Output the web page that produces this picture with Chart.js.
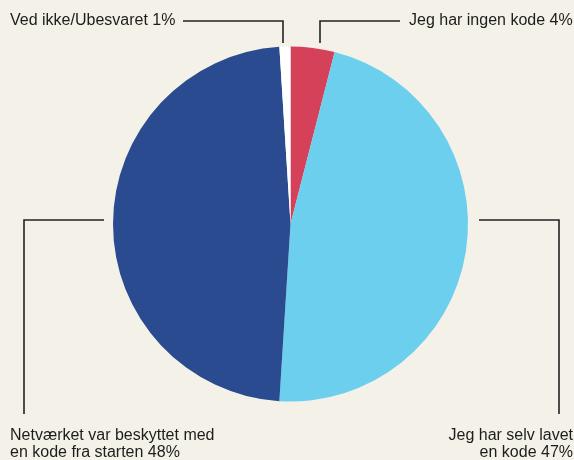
<!DOCTYPE html>
<html>
<head>
<meta charset="utf-8">
<script src="https://cdn.jsdelivr.net/npm/chart.js@4"></script>
<style>
  html, body { margin: 0; padding: 0; background: #f4f1e9; }
  #wrap { width: 574px; height: 460px; }
</style>
</head>
<body>
<div id="wrap"><canvas id="pieChart" width="574" height="460"></canvas></div>
<script>
// answers, clockwise from 12 o'clock
const labels = [
    ["Jeg har ingen kode"],
    ["Jeg har selv lavet", "en kode"],
    ["Netværket var beskyttet med", "en kode fra starten"],
    ["Ved ikke/Ubesvaret"]
];
const values = [4, 47, 48, 1];
const colors = ["#d6415a", "#6dcfee", "#2a4b8f", "#ffffff"];

// leader lines + label placement (canvas pixels)
const callouts = [
    { line: [[320, 43], [320, 21], [400, 21]], text: [409, 21], align: "left" },
    { line: [[479, 220], [559, 220], [559, 414]], text: [573, 436], align: "right" },
    { line: [[104, 220], [24, 220], [24, 414]], text: [10, 436], align: "left" },
    { line: [[283, 43], [283, 21], [183, 21]], text: [10, 21], align: "left" }
];

const calloutPlugin = {
    id: "callouts",
    afterDraw(chart) {
        const c = chart.ctx;
        const data = chart.data.datasets[0].data;
        c.save();
        c.strokeStyle = "#222";
        c.lineWidth = 1.6;
        c.fillStyle = "#1d1d1b";
        c.font = "16px 'Liberation Sans', Arial, sans-serif";
        c.textBaseline = "middle";
        callouts.forEach((co, i) => {
            c.beginPath();
            co.line.forEach((p, j) => j ? c.lineTo(p[0], p[1]) : c.moveTo(p[0], p[1]));
            c.stroke();
            const lines = chart.data.labels[i].slice();
            lines[lines.length - 1] += " " + data[i] + "%";
            c.textAlign = co.align;
            lines.forEach((t, k) => c.fillText(t, co.text[0], co.text[1] + k * 17));
        });
        c.restore();
    }
};

new Chart(document.getElementById("pieChart").getContext("2d"), {
    type: "pie",
    data: {
        labels: labels,
        datasets: [{
            data: values,
            backgroundColor: colors,
            borderWidth: 0
        }]
    },
    options: {
        responsive: false,
        animation: false,
        layout: { padding: { left: 113, right: 106, top: 46, bottom: 58 } },
        plugins: {
            legend: { display: false },
            tooltip: { enabled: false }
        }
    },
    plugins: [calloutPlugin]
});
</script>
</body>
</html>
